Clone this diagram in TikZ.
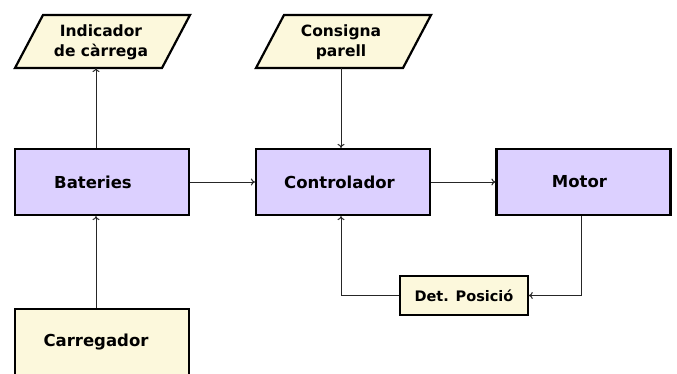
\documentclass[tikz,border=0pt]{standalone}
\usepackage{fontspec}
\setmainfont{DejaVu Sans}
\usetikzlibrary{arrows.meta}
\definecolor{boxpurple}{RGB}{220,208,255}
\definecolor{boxyellow}{RGB}{252,248,220}
\tikzset{
  block/.style={draw=black, line width=2.2pt, fill=boxpurple, minimum width=174pt, minimum height=66pt, inner sep=0pt, font=\fontsize{16.5}{20}\selectfont\bfseries},
  yblock/.style={block, fill=boxyellow},
  para/.style={draw=black, line width=2.2pt, fill=boxyellow, line join=miter},
  ptext/.style={align=center, inner sep=0pt, font=\fontsize{15.5}{20}\selectfont\bfseries},
  conn/.style={line width=1pt, draw=black!85, -{To[length=4pt,width=7pt]}}
}
\begin{document}
\begin{tikzpicture}[x=1pt,y=-1pt]
\useasboundingbox (0,0) rectangle (677,373);
% parallelograms
\draw[para] (43,15) -- (190,15) -- (162,68) -- (15,68) -- cycle;
\node[ptext] (ind) at (101,42) {Indicador\\de càrrega};
\coordinate (indb) at (96,68);
\draw[para] (284,15) -- (431,15) -- (403,68) -- (256,68) -- cycle;
\node[ptext] (cons) at (341,42) {Consigna\\parell};
\coordinate (consb) at (341,68);
% blocks
\node[block] (bat) at (102,182) {Bateries\kern18pt};
\node[block] (ctl) at (343,182) {Controlador\kern7pt};
\node[block] (mot) at (583.5,182) {Motor\kern8pt};
\node[yblock] (car) at (102,342) {Carregador\kern12pt};
\node[yblock, minimum width=128pt, minimum height=39pt, line width=1.6pt, font=\fontsize{14.5}{17}\selectfont\bfseries] (det) at (464,295.5) {Det. Posició};
% connectors
\draw[conn] (bat.north -| indb) -- (indb);
\draw[conn] (car.north -| 96,0) -- (bat.south -| 96,0);
\draw[conn] (bat.east) -- (ctl.west);
\draw[conn] (ctl.east) -- (mot.west);
\draw[conn] (consb) -- (ctl.north -| consb);
\draw[conn] (mot.south -| 581,0) |- (det.east);
\draw[conn] (det.west) -| (ctl.south -| 341,0);
\end{tikzpicture}
\end{document}
